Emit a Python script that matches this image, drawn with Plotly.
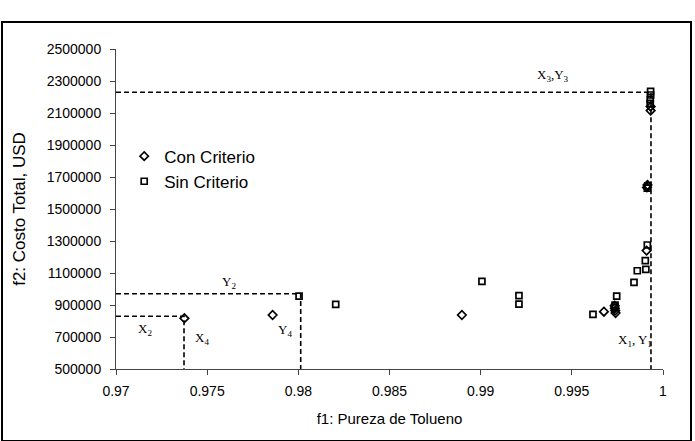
import plotly.graph_objects as go

# Data: Con Criterio (diamonds)
con_x = [0.97375, 0.97859, 0.98897, 0.99676, 0.99736, 0.99738, 0.99735, 0.99740,
         0.99910, 0.99912, 0.99915, 0.99932, 0.99932]
con_y = [817000, 837500, 837500, 858000, 880000, 865000, 895000, 850000,
         1240000, 1635000, 1650000, 2140000, 2115000]

# Data: Sin Criterio (squares)
sin_x = [0.98004, 0.98205, 0.99007, 0.99210, 0.99210, 0.99616, 0.99746, 0.99737,
         0.99735, 0.99841, 0.99859, 0.99906, 0.99903, 0.99914, 0.99914, 0.99916,
         0.99932, 0.99932, 0.99930, 0.99930]
sin_y = [956000, 904000, 1048000, 958000, 906000, 842000, 956000, 900000,
         885000, 1042000, 1114000, 1123000, 1177000, 1275000, 1630000, 1645000,
         2235000, 2212500, 2185000, 2160000]

# Reference (dashed) lines
ref13_x = [0.97, 0.99934, 0.99934]
ref13_y = [2230000, 2230000, 500000]
ref2_x = [0.97, 0.98013, 0.98013]
ref2_y = [970000, 970000, 500000]
ref4_x = [0.97, 0.97373, 0.97373]
ref4_y = [830000, 830000, 500000]

x_ticks = [0.97, 0.975, 0.98, 0.985, 0.99, 0.995, 1.0]
x_tick_text = ["0.97", "0.975", "0.98", "0.985", "0.99", "0.995", "1"]
y_ticks = list(range(500000, 2500001, 200000))
y_tick_text = [str(v) for v in y_ticks]

fig = go.Figure()

for rx, ry in [(ref13_x, ref13_y), (ref2_x, ref2_y), (ref4_x, ref4_y)]:
    fig.add_trace(go.Scatter(x=rx, y=ry, mode="lines", showlegend=False,
                             hoverinfo="skip",
                             line=dict(color="black", width=1.6, dash="5px,3px")))

fig.add_trace(go.Scatter(x=con_x, y=con_y, mode="markers", name="Con Criterio",
                         marker=dict(symbol="diamond-open", size=6.5, color="black",
                                     line=dict(width=1.7, color="black"))))
fig.add_trace(go.Scatter(x=sin_x, y=sin_y, mode="markers", name="Sin Criterio",
                         marker=dict(symbol="square-open", size=6, color="black",
                                     line=dict(width=1.7, color="black"))))

serif = dict(family="Liberation Serif, Times New Roman, serif", size=13, color="black")
labels = [
    (0.99397, 2337500, "X<sub>3</sub>,Y<sub>3</sub>"),
    (0.97620, 1043750, "Y<sub>2</sub>"),
    (0.97159, 750000, "X<sub>2</sub>"),
    (0.97472, 693750, "X<sub>4</sub>"),
    (0.97927, 743750, "Y<sub>4</sub>"),
    (0.99846, 681250, "X<sub>1</sub>, Y<sub>1</sub>"),
]
for lx, ly, lt in labels:
    fig.add_annotation(x=lx, y=ly, text=lt, showarrow=False, font=serif,
                       xanchor="center", yanchor="middle")

# outer frame
fig.add_shape(type="rect", xref="paper", yref="paper",
              x0=-0.2084, x1=1.0512, y0=-0.225, y1=1.084,
              line=dict(color="black", width=2))

sans = "Liberation Sans, Arial, sans-serif"
tick_font = dict(family=sans, size=14, color="black")
fig.update_layout(
    width=695, height=441,
    margin=dict(l=116, r=32, t=49, b=72),
    paper_bgcolor="white", plot_bgcolor="white",
    font=dict(family=sans, size=14, color="black"),
    showlegend=True,
    legend=dict(x=0.015, y=0.72, xanchor="left", yanchor="top",
                bgcolor="rgba(0,0,0,0)", font=dict(family=sans, size=17, color="black"),
                tracegroupgap=0, itemwidth=30),
    xaxis=dict(range=[0.97, 1.0], tickvals=x_ticks, ticktext=x_tick_text,
               showgrid=False, zeroline=False, showline=True, linecolor="#444",
               linewidth=1, ticks="outside", ticklen=5, tickcolor="#444",
               tickfont=tick_font, ticklabelstandoff=4,
               title=dict(text="f1: Pureza de Tolueno", standoff=15,
                          font=dict(family=sans, size=15))),
    yaxis=dict(range=[500000, 2500000], tickvals=y_ticks, ticktext=y_tick_text,
               showgrid=False, zeroline=False, showline=True, linecolor="#444",
               linewidth=1, ticks="outside", ticklen=5, tickcolor="#444",
               tickfont=tick_font, ticklabelstandoff=6,
               title=dict(text="f2: Costo Total, USD", standoff=16,
                          font=dict(family=sans, size=17))),
)

fig.write_html("out.html")
